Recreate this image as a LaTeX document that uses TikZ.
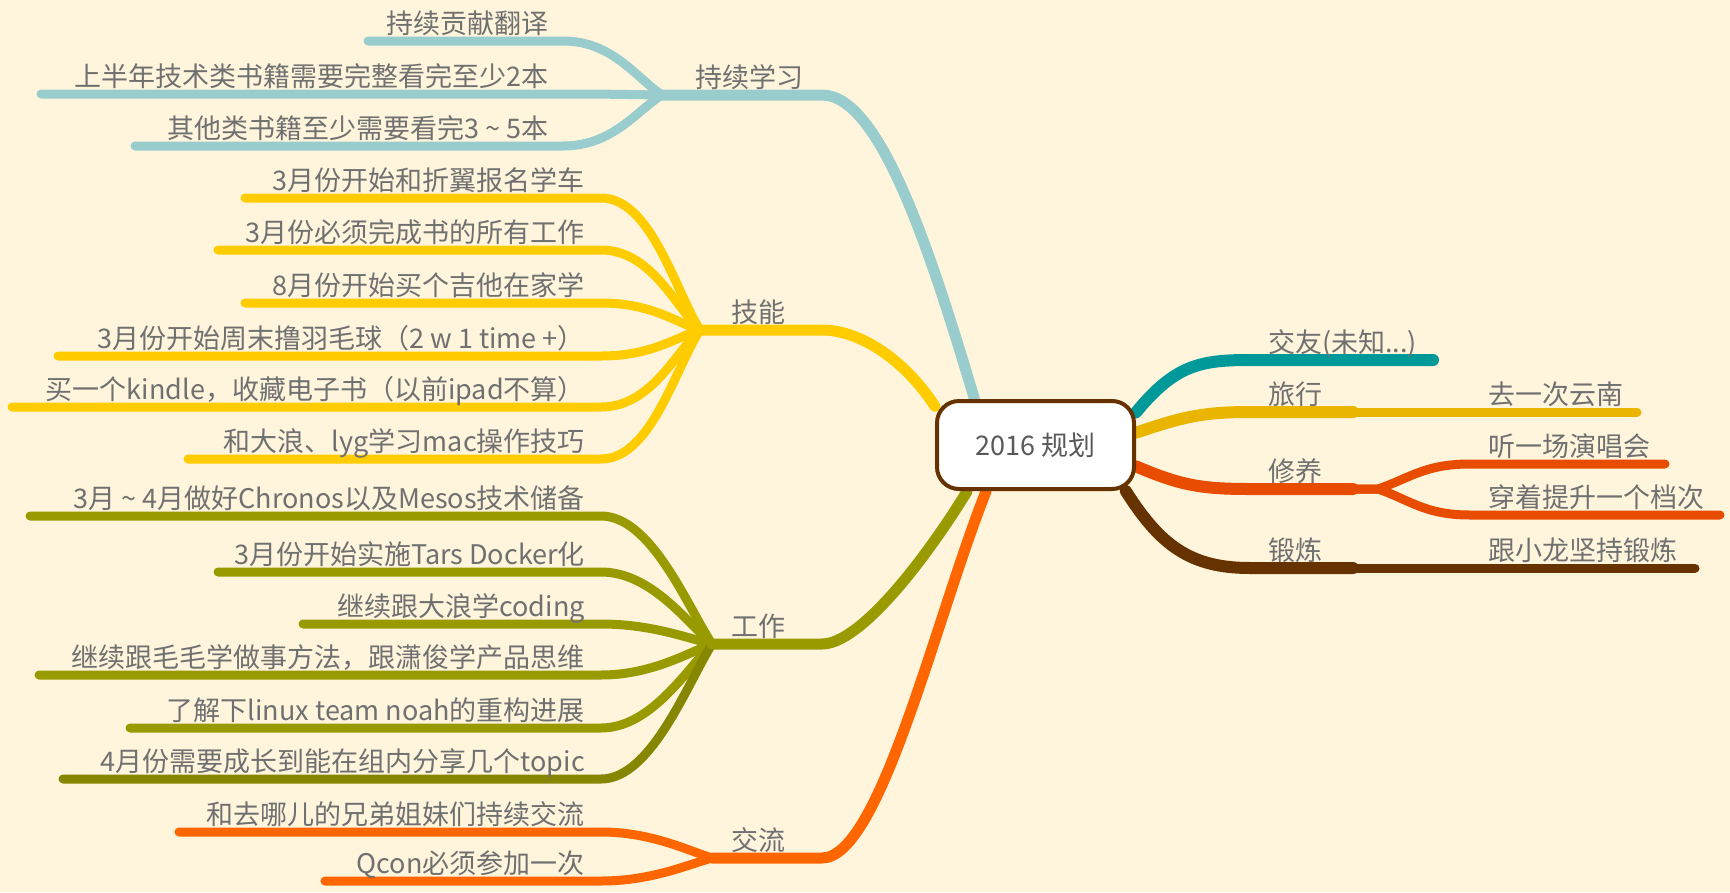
\documentclass[tikz,border=0pt]{standalone}
\usepackage{fontspec}
\newfontfamily\cjk{Noto Sans CJK SC}
\usetikzlibrary{calc}
\definecolor{bgc}{HTML}{FFF5DD}
\definecolor{txtgray}{HTML}{707070}
\definecolor{cteal}{HTML}{99CCCC}
\definecolor{cyel}{HTML}{FFCC00}
\definecolor{colive}{HTML}{999900}
\definecolor{colived}{HTML}{868600}
\definecolor{corange}{HTML}{FF6600}
\definecolor{cdteal}{HTML}{009999}
\definecolor{cgold}{HTML}{EAB500}
\definecolor{cred}{HTML}{E84C00}
\definecolor{cbrown}{HTML}{663300}
\pgfdeclarelayer{back}
\pgfdeclarelayer{lines}
\pgfsetlayers{back,lines,main}
\tikzset{
  txt/.style={font=\cjk\fontsize{27}{30}\selectfont, text=txtgray, inner sep=0pt},
  subl/.style={line width=9pt, line cap=round},
  lbl/.style={line width=11pt, line cap=round},
  mainl/.style={line width=12pt, line cap=round},
}
\newcommand\mmgroup[6]{% #1 prefix, #2 bx, #3 by, #4 xe, #5 textx, #6 list
  \coordinate (#1B) at (#2,#3);
  \foreach \yy/\ll/\lab/\cc [count=\i] in {#6} {
    \coordinate (#1L\i) at (\ll,\yy);
    \coordinate (#1R\i) at (#4,\yy);
    \node[txt,anchor=base east] (#1T\i) at (#5,\yy-8) {\lab};
    \begin{pgfonlayer}{lines}
      \draw[subl,draw=\cc] (#1L\i) -- (#1R\i) .. controls ($(#1R\i)+(50,0)$) and ($(#1B)+(-25,{(\yy-#3)*0.3})$) .. (#1B);
    \end{pgfonlayer}
  }
}
\begin{document}
\begin{tikzpicture}[x=1pt,y=-1pt]
\begin{pgfonlayer}{back}
  \fill[bgc] (0,0) rectangle (1730,892);
\end{pgfonlayer}
\useasboundingbox (0,0) rectangle (1730,892);

% root
\node[txt, text=black!65, draw=cbrown, fill=white, line width=4pt, rounded corners=22pt,
      minimum width=197pt, minimum height=88pt] (root) at (1035.5,445) {2016 规划};

% ---- left groups
\mmgroup{a}{662}{95}{563}{549}{
  41/368/持续贡献翻译/cteal,
  94/41/上半年技术类书籍需要完整看完至少2本/cteal,
  146/135/其他类书籍至少需要看完3 \textasciitilde{} 5本/cteal}
\mmgroup{b}{700}{330}{601}{585}{
  198/245/3月份开始和折翼报名学车/cyel,
  250/218/3月份必须完成书的所有工作/cyel,
  303/245/8月份开始买个吉他在家学/cyel,
  356/58/3月份开始周末撸羽毛球（2 w 1 time +）/cyel,
  407/12/买一个kindle，收藏电子书（以前ipad不算）/cyel,
  459/188/和大浪、lyg学习mac操作技巧/cyel}
\mmgroup{c}{712}{644}{601}{585}{
  516/30/3月 \textasciitilde{} 4月做好Chronos以及Mesos技术储备/colive,
  572/218/3月份开始实施Tars Docker化/colive,
  624/303/继续跟大浪学coding/colive,
  675/39/继续跟毛毛学做事方法，跟潇俊学产品思维/colive,
  728/130/了解下linux team noah的重构进展/colive,
  779/63/4月份需要成长到能在组内分享几个topic/colived}
\mmgroup{d}{712}{858}{601}{585}{
  832/179/和去哪儿的兄弟姐妹们持续交流/corange,
  881/325/Qcon必须参加一次/corange}

% left branch labels
\node[txt,anchor=base west] (la) at (695,87) {持续学习};
\node[txt,anchor=base west] (lb) at (731,322) {技能};
\node[txt,anchor=base west] (lc) at (731,636) {工作};
\node[txt,anchor=base west] (ld) at (731,850) {交流};
\coordinate (ae) at (822,95);
\coordinate (be) at (822,330);
\coordinate (ce) at (822,644);
\coordinate (de) at (822,858);

% right side coordinates
\coordinate (e1) at (1250,360); \coordinate (e1x) at (1433,360);
\coordinate (e2) at (1250,412); \coordinate (e2m) at (1353,412); \coordinate (e2x) at (1637,412);
\coordinate (e3) at (1250,489); \coordinate (e3m) at (1353,489); \coordinate (e3f) at (1378,489);
\coordinate (e3a) at (1470,464); \coordinate (e3ax) at (1665,464);
\coordinate (e3b) at (1470,515); \coordinate (e3bx) at (1720,515);
\coordinate (e4) at (1250,568); \coordinate (e4m) at (1353,568); \coordinate (e4x) at (1695,568);

\node[txt,anchor=base west] (r1) at (1268,352) {交友(未知...)};
\node[txt,anchor=base west] (r2) at (1268,404) {旅行};
\node[txt,anchor=base west] (r2a) at (1488,404) {去一次云南};
\node[txt,anchor=base west] (r3) at (1268,481) {修养};
\node[txt,anchor=base west] (r3a) at (1488,456) {听一场演唱会};
\node[txt,anchor=base west] (r3b) at (1488,507) {穿着提升一个档次};
\node[txt,anchor=base west] (r4) at (1268,560) {锻炼};
\node[txt,anchor=base west] (r4a) at (1488,560) {跟小龙坚持锻炼};

\begin{pgfonlayer}{lines}
  % left main branches
  \draw[lbl,draw=cteal] (aB) -- (ae) .. controls (880,95) and (930,250) .. (root.143);
  \draw[lbl,draw=cyel] (bB) -- (be) .. controls (860,330) and (905,360) .. (root.159);
  \draw[lbl,draw=colive] (cB) -- (ce) .. controls (860,644) and (925,560) .. (root.214);
  \draw[lbl,draw=corange] (dB) -- (de) .. controls (880,858) and (935,620) .. (root.223);
  % right branches
  \draw[mainl,draw=cdteal] (root.18) .. controls (1175,365) and (1200,360) .. (e1) -- (e1x);
  \draw[mainl,draw=cgold] (root.7) .. controls (1180,418) and (1200,412) .. (e2) -- (e2m);
  \draw[subl,draw=cgold] (e2m) -- (e2x);
  \draw[mainl,draw=cred] (root.-12) .. controls (1180,485) and (1200,489) .. (e3) -- (e3m);
  \draw[subl,draw=cred] (e3m) -- (e3f) .. controls (1410,478) and (1425,464) .. (e3a) -- (e3ax);
  \draw[subl,draw=cred] (e3m) -- (e3f) .. controls (1410,500) and (1425,515) .. (e3b) -- (e3bx);
  \draw[mainl,draw=cbrown] (root.-27) .. controls (1160,545) and (1190,568) .. (e4) -- (e4m);
  \draw[subl,draw=cbrown] (e4m) -- (e4x);
\end{pgfonlayer}
\end{tikzpicture}
\end{document}
